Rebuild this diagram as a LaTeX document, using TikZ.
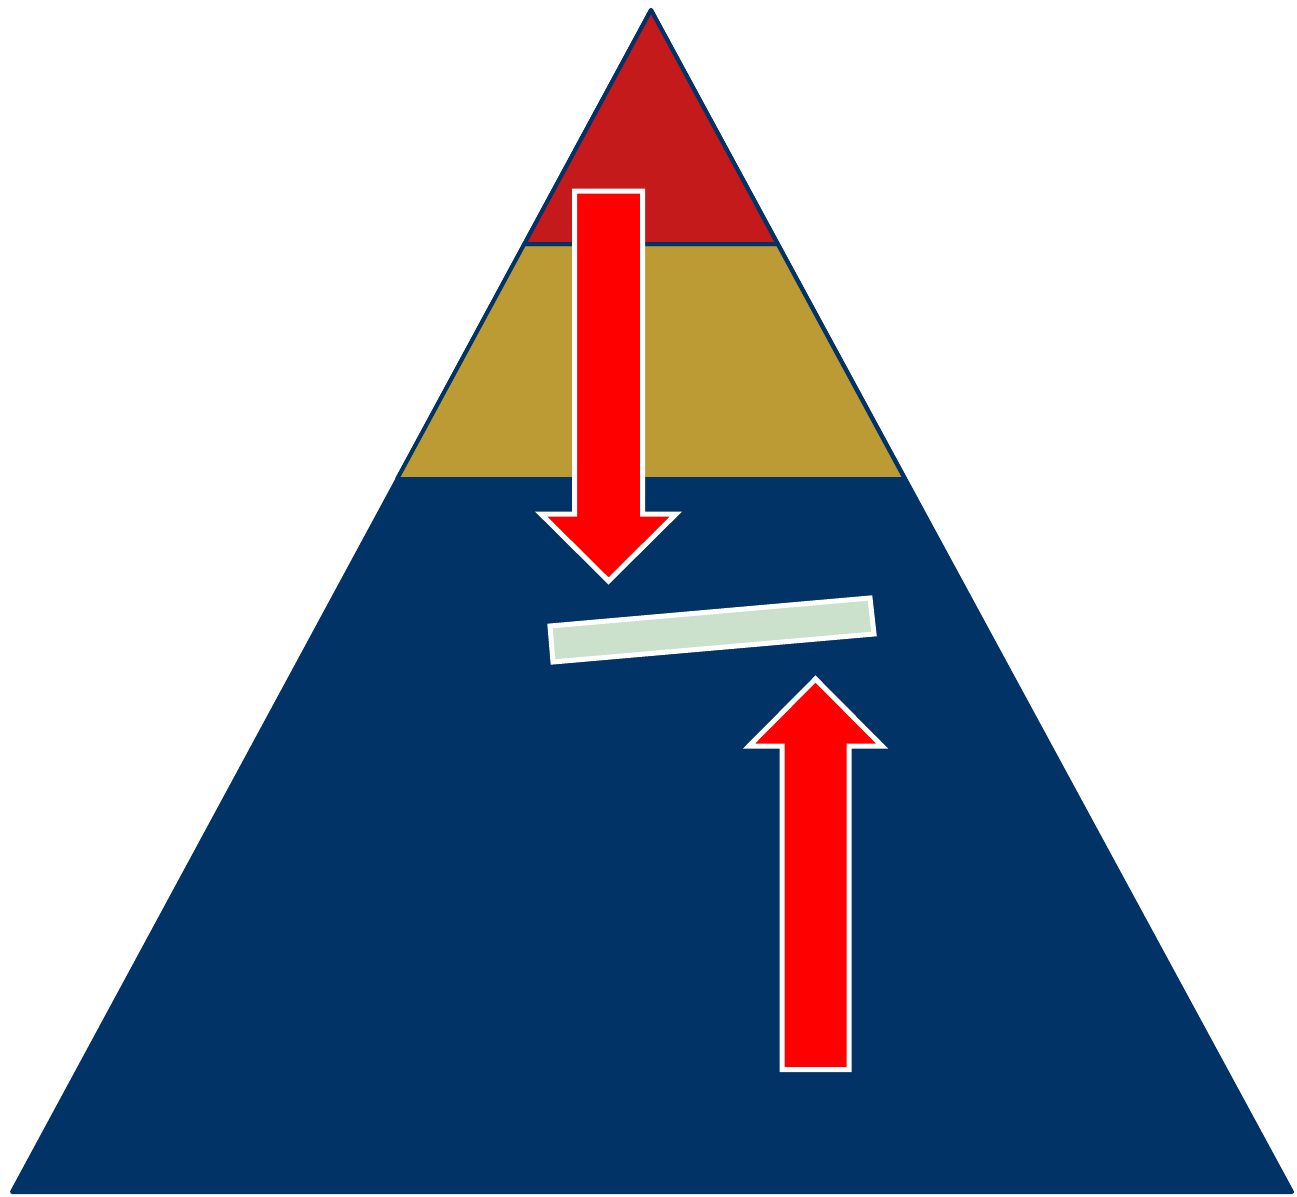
\documentclass[tikz,border=0pt]{standalone}
\begin{document}
\begin{tikzpicture}[x=1pt,y=-1pt,
  layer/.style={draw=pblue, line width=4pt, line join=round},
  blockarrow/.style={fill=ared, draw=white, line width=5pt, line join=miter},
  bar/.style={fill=pgreen, draw=white, line width=5pt, line join=miter}]
\definecolor{pblue}{RGB}{2,51,102}
\definecolor{pred}{RGB}{196,26,28}
\definecolor{pgold}{RGB}{188,154,52}
\definecolor{ared}{RGB}{255,0,0}
\definecolor{pgreen}{RGB}{204,225,203}
\useasboundingbox (0,0) rectangle (1297,1196);
% pyramid
\coordinate (apex) at (651,10);
\coordinate (bl) at (12,1192);
\coordinate (br) at (1292,1192);
\coordinate (m1l) at (524.3,244);
\coordinate (m1r) at (777.7,244);
\coordinate (m2l) at (397.1,479);
\coordinate (m2r) at (904.9,479);
\draw[layer, fill=pblue] (apex) -- (bl) -- (br) -- cycle;
\draw[layer, fill=pgold] (m1l) -- (m2l) -- (m2r) -- (m1r) -- cycle;
\draw[layer, fill=pred] (apex) -- (m1l) -- (m1r) -- cycle;
% down arrow
\draw[blockarrow] (574.5,191) -- (642.5,191) -- (642.5,514) -- (676,514)
  -- (608.5,581) -- (541,514) -- (574.5,514) -- cycle;
% tilted bar
\draw[bar] (550,626) -- (870,598) -- (874,634) -- (553,662) -- cycle;
% up arrow
\draw[blockarrow] (782,1069.5) -- (849,1069.5) -- (849,746) -- (882,746)
  -- (815.5,679) -- (749,746) -- (782,746) -- cycle;
\end{tikzpicture}
\end{document}
